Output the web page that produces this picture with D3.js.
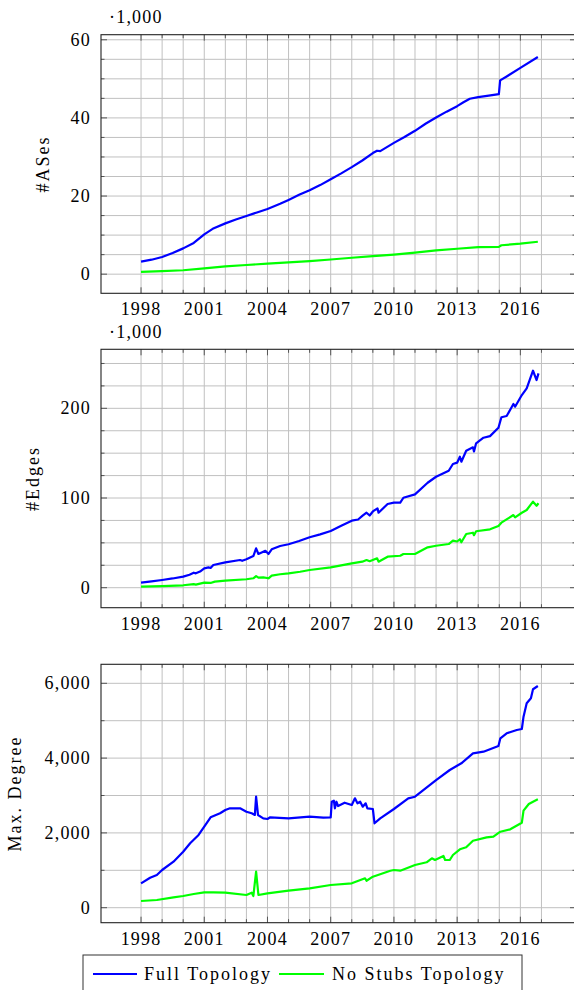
<!DOCTYPE html>
<html>
<head>
<meta charset="utf-8">
<script src="https://cdn.jsdelivr.net/npm/d3@7"></script>
<style>
body { margin: 0; background: #fff; }
text { font-family: "Liberation Serif", "Times New Roman", serif; fill: #000; }
</style>
</head>
<body>
<div id="chart"></div>
<script>
// values, [year, value]
var asesFull = [[1998, 3.2], [1998.5, 3.7], [1999, 4.4], [1999.5, 5.4], [2000, 6.6], [2000.5, 8.0], [2001, 10.2], [2001.4, 11.6], [2002, 13.0], [2002.5, 14.0], [2003, 14.9], [2003.5, 15.8], [2004, 16.7], [2004.6, 18.0], [2005, 19.0], [2005.5, 20.3], [2006, 21.5], [2006.5, 22.8], [2007, 24.3], [2007.5, 25.8], [2008, 27.4], [2008.5, 29.1], [2009, 31.0], [2009.2, 31.6], [2009.35, 31.5], [2010, 33.6], [2010.5, 35.1], [2011, 36.7], [2011.5, 38.5], [2012, 40.1], [2012.5, 41.6], [2013, 43.0], [2013.3, 44.0], [2013.6, 44.9], [2014, 45.3], [2014.5, 45.7], [2014.98, 46.1], [2015.04, 49.6], [2015.35, 50.6], [2016, 52.8], [2016.83, 55.6]];
var asesNoStubs = [[1998, 0.6], [1999, 0.8], [2000, 1.0], [2001, 1.5], [2002, 2.0], [2003, 2.35], [2004, 2.7], [2005, 3.0], [2006, 3.35], [2007, 3.75], [2008, 4.2], [2009, 4.6], [2010, 5.0], [2011, 5.5], [2012, 6.1], [2013, 6.5], [2014, 6.9], [2014.98, 7.0], [2015.1, 7.4], [2016, 7.8], [2016.83, 8.3]];

var edgesFull = [[1998, 5.6], [1998.5, 7], [1999, 8.6], [1999.5, 10.3], [2000, 12.3], [2000.3, 14.5], [2000.5, 16.7], [2000.6, 16.0], [2000.8, 18.0], [2001, 21.6], [2001.2, 22.6], [2001.3, 22.0], [2001.43, 25.3], [2002, 28.3], [2002.7, 30.9], [2002.8, 30.0], [2003, 31.7], [2003.33, 35.3], [2003.46, 43.9], [2003.57, 37.6], [2003.9, 41.2], [2004.05, 37.6], [2004.2, 42.8], [2004.6, 46.5], [2005, 48.4], [2005.5, 52], [2006, 56.2], [2006.5, 59.5], [2007, 63.2], [2007.5, 69], [2008, 74.7], [2008.3, 76], [2008.5, 80], [2008.7, 83.6], [2008.85, 80.5], [2009, 85], [2009.22, 88.5], [2009.27, 83.6], [2009.7, 93.3], [2010, 94.8], [2010.3, 94.8], [2010.45, 100.3], [2011, 104.1], [2011.6, 117], [2012, 123.7], [2012.6, 130.4], [2012.8, 137.9], [2013, 139.4], [2013.13, 146], [2013.2, 140.5], [2013.43, 152.7], [2013.75, 156.5], [2013.8, 152], [2013.9, 161], [2014.25, 167.2], [2014.56, 169], [2014.96, 178.4], [2015.1, 190], [2015.35, 191.4], [2015.67, 204.8], [2015.75, 201.8], [2016.07, 214.8], [2016.3, 222.3], [2016.6, 241.9], [2016.77, 231.5], [2016.86, 239]];
var edgesNoStubs = [[1998, 1.1], [1999, 1.8], [2000, 2.7], [2000.5, 4], [2000.6, 3.5], [2001, 5.6], [2001.3, 5.3], [2001.5, 6.8], [2002, 7.8], [2003, 9.4], [2003.33, 10.5], [2003.46, 13], [2003.57, 11.2], [2003.8, 11.6], [2004.05, 10.5], [2004.2, 13.4], [2004.6, 15], [2005, 16], [2005.55, 17.8], [2006, 19.7], [2007, 22.7], [2008, 27.2], [2008.5, 29], [2008.7, 30.9], [2008.85, 29.5], [2009.2, 32.8], [2009.27, 29], [2009.7, 34.6], [2010.3, 35.6], [2010.45, 37.6], [2011, 37.6], [2011.6, 45], [2012, 46.8], [2012.6, 48.7], [2012.8, 52.4], [2013, 51.5], [2013.13, 54], [2013.2, 50.6], [2013.43, 59.9], [2013.75, 61.3], [2013.8, 58.5], [2013.9, 62.9], [2014.56, 65.1], [2014.96, 68.8], [2015.1, 72.5], [2015.67, 81], [2015.75, 78.5], [2016.07, 83.6], [2016.3, 86.6], [2016.6, 95.9], [2016.77, 91.4], [2016.86, 94.1]];

var degreeFull = [[1998, 652], [1998.43, 802], [1998.75, 874], [1999, 1008], [1999.54, 1230], [2000, 1497], [2000.33, 1722], [2000.73, 1944], [2001, 2166], [2001.3, 2417], [2001.75, 2524], [2002, 2612], [2002.22, 2658], [2002.7, 2658], [2003, 2567], [2003.25, 2524], [2003.4, 2480], [2003.46, 2968], [2003.55, 2479], [2003.8, 2390], [2004, 2372], [2004.13, 2417], [2005, 2390], [2006, 2433], [2006.65, 2406], [2007, 2417], [2007.05, 2834], [2007.15, 2861], [2007.2, 2658], [2007.27, 2834], [2007.35, 2719], [2007.66, 2807], [2008, 2746], [2008.15, 2925], [2008.27, 2791], [2008.4, 2834], [2008.52, 2701], [2008.66, 2791], [2008.74, 2658], [2009, 2639], [2009.08, 2257], [2009.35, 2390], [2010, 2639], [2010.68, 2925], [2011, 2968], [2012, 3414], [2012.65, 3682], [2013.2, 3861], [2013.75, 4128], [2014.25, 4171], [2014.96, 4323], [2015.05, 4529], [2015.35, 4663], [2015.83, 4751], [2016.07, 4778], [2016.15, 5107], [2016.3, 5465], [2016.5, 5599], [2016.6, 5840], [2016.83, 5928]];
var degreeNoStubs = [[1998, 179], [1998.75, 206], [1999.54, 278], [2000, 313], [2000.5, 366], [2001, 412], [2001.43, 412], [2002, 401], [2003, 340], [2003.25, 401], [2003.33, 313], [2003.46, 963], [2003.57, 340], [2004, 385], [2005, 455], [2006, 519], [2007, 607], [2008, 652], [2008.63, 786], [2008.7, 720], [2009, 829], [2009.83, 989], [2010, 1008], [2010.3, 989], [2011, 1142], [2011.55, 1214], [2011.8, 1321], [2011.95, 1276], [2012.35, 1382], [2012.43, 1275], [2012.65, 1275], [2012.8, 1409], [2013.13, 1561], [2013.43, 1615], [2013.75, 1791], [2014.4, 1882], [2014.72, 1900], [2015.05, 2032], [2015.52, 2096], [2016.07, 2273], [2016.15, 2594], [2016.4, 2773], [2016.6, 2834], [2016.83, 2898]];

var gridYears = [1998, 1999, 2000, 2001, 2002, 2003, 2004, 2005, 2006, 2007, 2008, 2009, 2010, 2011, 2012, 2013, 2014, 2015, 2016, 2017];
var labelYears = [1998, 2001, 2004, 2007, 2010, 2013, 2016];
var seriesNames = ["Full Topology", "No Stubs Topology"];
var seriesColors = ["#0000ff", "#00ff00"];

var svg = d3.select("#chart").append("svg").attr("width", 574).attr("height", 990);

var left = 101, right = 576;
var x_scale = d3.scaleLinear().domain([1996.1, 2018.64]).range([left, right]);

var panels = [
    { top: 34.7, bottom: 293.3, domain: [-4.9, 61.3], major: [0, 20, 40, 60], minor: d3.range(0, 61, 5),
      fmt: d3.format("d"), label: "#ASes", labelX: 43, scaleNote: true, series: [asesFull, asesNoStubs] },
    { top: 349.3, bottom: 607.7, domain: [-22.3, 265.8], major: [0, 100, 200], minor: d3.range(0, 266, 25),
      fmt: d3.format("d"), label: "#Edges", labelX: 33, scaleNote: true, series: [edgesFull, edgesNoStubs] },
    { top: 664.3, bottom: 922.7, domain: [-401, 6508], major: [0, 2000, 4000, 6000], minor: d3.range(0, 6501, 1000),
      fmt: d3.format(","), label: "Max. Degree", labelX: 15, scaleNote: false, series: [degreeFull, degreeNoStubs] }
];

panels.forEach(function (p) {
    var y_scale = d3.scaleLinear().domain(p.domain).range([p.bottom, p.top]);
    var g = svg.append("g");

    // grid
    g.selectAll(".vgrid").data(gridYears).enter().append("line")
        .attr("x1", d => x_scale(d)).attr("x2", d => x_scale(d))
        .attr("y1", p.top).attr("y2", p.bottom)
        .style("stroke", "#c0c0c0").style("stroke-width", 1);
    g.selectAll(".hgrid").data(p.minor).enter().append("line")
        .attr("x1", left).attr("x2", right)
        .attr("y1", d => y_scale(d)).attr("y2", d => y_scale(d))
        .style("stroke", "#c0c0c0").style("stroke-width", 1);

    // tick marks on all four sides
    gridYears.forEach(function (yr) {
        var len = labelYears.indexOf(yr) >= 0 ? 6 : 3.5;
        g.append("line").attr("x1", x_scale(yr)).attr("x2", x_scale(yr))
            .attr("y1", p.bottom).attr("y2", p.bottom - len).style("stroke", "#555");
        g.append("line").attr("x1", x_scale(yr)).attr("x2", x_scale(yr))
            .attr("y1", p.top).attr("y2", p.top + len).style("stroke", "#555");
    });
    p.minor.forEach(function (v) {
        var len = p.major.indexOf(v) >= 0 ? 6 : 3.5;
        g.append("line").attr("x1", left).attr("x2", left + len)
            .attr("y1", y_scale(v)).attr("y2", y_scale(v)).style("stroke", "#555");
        g.append("line").attr("x1", right - len).attr("x2", right)
            .attr("y1", y_scale(v)).attr("y2", y_scale(v)).style("stroke", "#555");
    });

    // frame
    g.append("rect").attr("x", left).attr("y", p.top)
        .attr("width", right - left).attr("height", p.bottom - p.top)
        .style("fill", "none").style("stroke", "#222").style("stroke-width", 1.1);

    // data
    var line = d3.line().x(d => x_scale(d[0])).y(d => y_scale(d[1]));
    p.series.forEach(function (s, i) {
        g.append("path").datum(s).attr("d", line)
            .style("fill", "none").style("stroke", seriesColors[i])
            .style("stroke-width", 2.2).style("stroke-linejoin", "round");
    });

    // tick labels
    g.selectAll(".xlab").data(labelYears).enter().append("text")
        .attr("x", d => x_scale(d)).attr("y", p.bottom + 22)
        .attr("text-anchor", "middle").style("font-size", "18px").style("letter-spacing", "1.2px")
        .text(d => d);
    g.selectAll(".ylab").data(p.major).enter().append("text")
        .attr("x", left - 10).attr("y", d => y_scale(d)).attr("dy", "0.33em")
        .attr("text-anchor", "end").style("font-size", "18px").style("letter-spacing", "1.2px")
        .text(d => p.fmt(d));

    if (p.scaleNote) {
        g.append("text").attr("x", 109).attr("y", p.top - 11.5)
            .style("font-size", "18px").style("letter-spacing", "1.2px").text("\u00b71,000");
    }

    g.append("text")
        .attr("transform", "translate(" + p.labelX + "," + ((p.top + p.bottom) / 2) + ") rotate(-90)")
        .attr("dy", "0.33em").attr("text-anchor", "middle")
        .style("font-size", "18px").style("letter-spacing", "2px")
        .text(p.label);
});

// legend
var legend = svg.append("g");
legend.append("rect").attr("x", 83).attr("y", 955).attr("width", 439).attr("height", 50)
    .style("fill", "#fff").style("stroke", "#333").style("stroke-width", 1);
var legendX = [[93, 137, 144], [279, 324, 332]];
seriesNames.forEach(function (name, i) {
    legend.append("line").attr("x1", legendX[i][0]).attr("x2", legendX[i][1])
        .attr("y1", 974).attr("y2", 974)
        .style("stroke", seriesColors[i]).style("stroke-width", 2.2);
    legend.append("text").attr("x", legendX[i][2]).attr("y", 979.5)
        .style("font-size", "18px").style("letter-spacing", "2px")
        .text(name);
});
</script>
</body>
</html>
